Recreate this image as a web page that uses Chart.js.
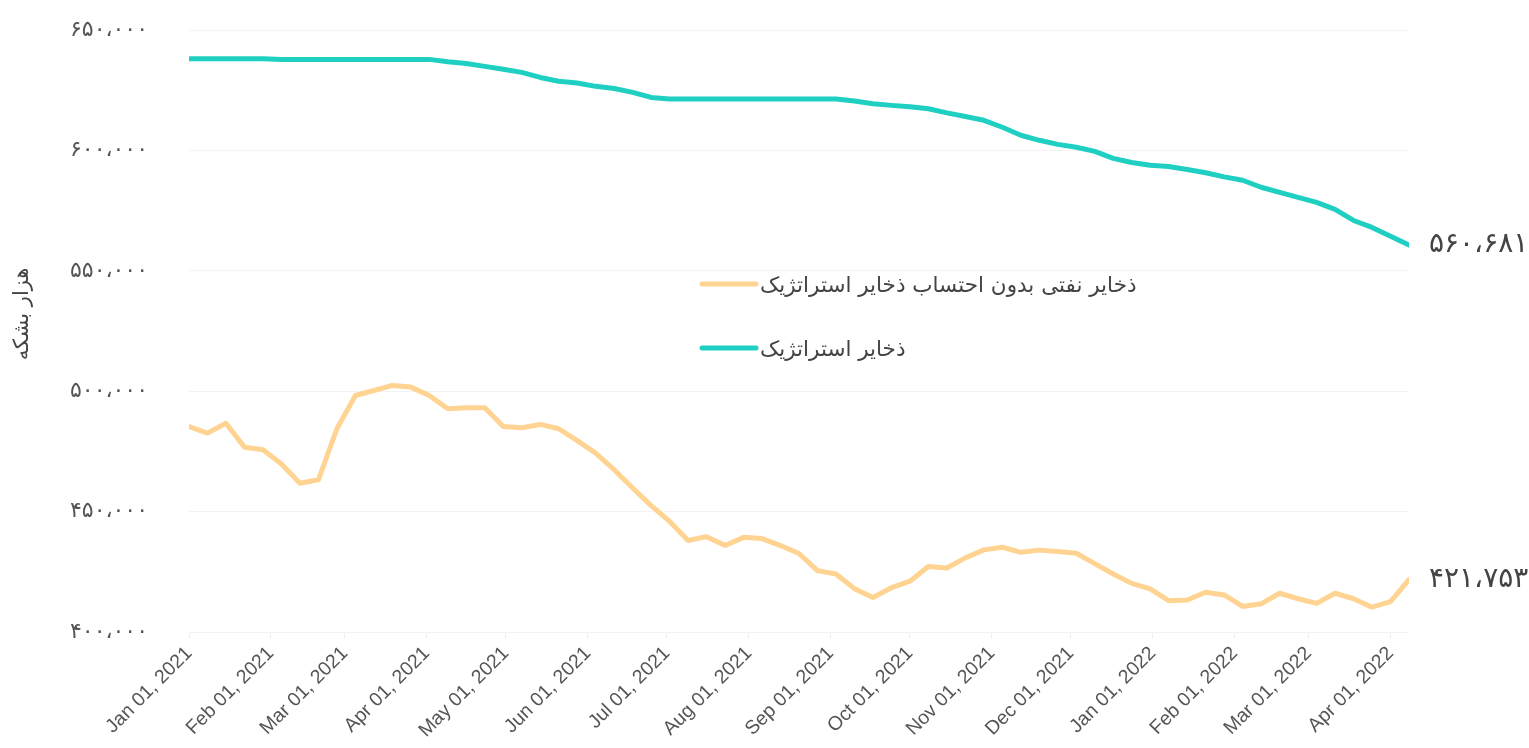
<!DOCTYPE html>
<html>
<head>
<meta charset="utf-8">
<script src="https://cdn.jsdelivr.net/npm/chart.js@4.4.1/dist/chart.umd.min.js"></script>
<style>
  body { margin: 0; background: #fff; }
  canvas { display: block; }
</style>
</head>
<body>
<canvas id="chart" width="1529" height="748"></canvas>
<script>
// weekly readings, first one on Fri Jan 01 2021
const startDate = Date.UTC(2021, 0, 1);
const dayMs = 86400000;

// ذخایر نفتی بدون احتساب ذخایر استراتژیک (thousand barrels)
const commercial = [
  485300, 482600, 486700, 476700, 475700, 469800, 461800, 463200, 484400, 498200,
  500300, 502400, 501700, 498200, 492700, 493100, 493100, 485300, 484800, 486200,
  484400, 479500, 474300, 467400, 459800, 452500, 445900, 438000, 439600, 435900,
  439300, 438800, 435900, 432600, 425500, 424100, 418000, 414300, 418400, 421100,
  427200, 426600, 430800, 434100, 435200, 433100, 434000, 433400, 432700, 428400,
  424100, 420200, 417900, 413000, 413300, 416500, 415400, 410600, 411700, 416100,
  413800, 411900, 416100, 413800, 410300, 412600, 421753
];

// ذخایر استراتژیک (thousand barrels)
const strategic = [
  638086, 638086, 638086, 638086, 638086, 637800, 637800, 637800, 637800, 637800,
  637800, 637800, 637800, 637800, 636800, 636100, 634900, 633700, 632400, 630300,
  628700, 628000, 626600, 625700, 624100, 622000, 621300, 621300, 621300, 621300,
  621300, 621300, 621300, 621300, 621300, 621300, 620500, 619400, 618700, 618100,
  617300, 615600, 614100, 612500, 609600, 606300, 604200, 602500, 601300, 599600,
  596700, 595000, 593800, 593300, 592100, 590700, 589000, 587600, 584700, 582600,
  580500, 578400, 575500, 570900, 568000, 564300, 560681
];

const seriesNames = ['ذخایر نفتی بدون احتساب ذخایر استراتژیک', 'ذخایر استراتژیک'];
const seriesColors = ['#ffd392', '#1fcfc2'];
const yTicks = [400000, 450000, 500000, 550000, 600000, 650000];
const yTitle = 'هزار بشکه';
const monthNames = ['Jan', 'Feb', 'Mar', 'Apr', 'May', 'Jun', 'Jul', 'Aug', 'Sep', 'Oct', 'Nov', 'Dec'];

const faFont = '"DejaVu Sans", sans-serif';

function faNum(n) {
  return Math.round(n).toLocaleString('en-US')
    .replace(/\d/g, d => '۰۱۲۳۴۵۶۷۸۹'[d])
    .replace(/,/g, '،');
}

function toPoints(values) {
  return values.map((v, i) => ({ x: i * 7, y: v }));
}

// first day of each month inside the range, as day offsets
const lastDay = (strategic.length - 1) * 7;
const monthTicks = [];
for (let m = 0; ; m++) {
  const d = (Date.UTC(2021, m, 1) - startDate) / dayMs;
  if (d > lastDay) break;
  monthTicks.push(d);
}

function dateLabel(day) {
  const dt = new Date(startDate + day * dayMs);
  return monthNames[dt.getUTCMonth()] + ' 01, ' + dt.getUTCFullYear();
}

const overlay = {
  id: 'overlay',
  afterDatasetsDraw(chart) {
    const ctx = chart.ctx;
    ctx.save();
    // value at the end of each line
    chart.data.datasets.forEach((ds, i) => {
      const meta = chart.getDatasetMeta(i);
      const last = meta.data[meta.data.length - 1];
      ctx.font = '28px ' + faFont;
      ctx.fillStyle = '#444';
      ctx.textAlign = 'left';
      ctx.textBaseline = 'middle';
      ctx.fillText(faNum(ds.data[ds.data.length - 1].y), last.x + 20, last.y);
    });
    // legend in the middle of the plot
    const lx = 702, ly = 284, rowGap = 64;
    chart.data.datasets.forEach((ds, i) => {
      const y = ly + i * rowGap;
      ctx.strokeStyle = ds.borderColor;
      ctx.lineWidth = 5;
      ctx.lineCap = 'round';
      ctx.beginPath();
      ctx.moveTo(lx, y);
      ctx.lineTo(lx + 54, y);
      ctx.stroke();
      ctx.font = '21.5px ' + faFont;
      ctx.fillStyle = '#444';
      ctx.textAlign = 'left';
      ctx.textBaseline = 'middle';
      ctx.fillText(ds.label, lx + 58, y + 2);
    });
    // y axis title
    ctx.translate(23, 314);
    ctx.rotate(-Math.PI / 2);
    ctx.font = '21px ' + faFont;
    ctx.fillStyle = '#444';
    ctx.textAlign = 'center';
    ctx.textBaseline = 'middle';
    ctx.fillText(yTitle, 0, 0);
    ctx.restore();
  }
};

new Chart(document.getElementById('chart'), {
  type: 'line',
  data: {
    datasets: [
      {
        label: seriesNames[0],
        data: toPoints(commercial),
        borderColor: seriesColors[0],
        backgroundColor: seriesColors[0],
        borderWidth: 5,
        pointRadius: 0,
        borderCapStyle: 'round',
        borderJoinStyle: 'round',
        tension: 0
      },
      {
        label: seriesNames[1],
        data: toPoints(strategic),
        borderColor: seriesColors[1],
        backgroundColor: seriesColors[1],
        borderWidth: 5,
        pointRadius: 0,
        borderCapStyle: 'round',
        borderJoinStyle: 'round',
        tension: 0
      }
    ]
  },
  options: {
    responsive: false,
    animation: false,
    layout: { padding: { top: 30, right: 120, left: 0, bottom: 0 } },
    plugins: {
      legend: { display: false },
      tooltip: { enabled: false }
    },
    scales: {
      x: {
        type: 'linear',
        min: 0,
        max: lastDay,
        afterBuildTicks: scale => { scale.ticks = monthTicks.map(v => ({ value: v })); },
        afterFit: scale => { scale.height = 116; },
        ticks: {
          callback: v => dateLabel(v),
          autoSkip: false,
          minRotation: 45,
          maxRotation: 45,
          padding: 4,
          color: '#555',
          font: { family: 'Arial, "Liberation Sans", sans-serif', size: 19.5 }
        },
        grid: { drawOnChartArea: false, drawTicks: true, tickLength: 6, color: '#eeeeee' },
        border: { display: false }
      },
      y: {
        min: yTicks[0],
        max: yTicks[yTicks.length - 1],
        afterBuildTicks: scale => { scale.ticks = yTicks.map(v => ({ value: v })); },
        afterFit: scale => {
          scale.width = 189;
          // tick padding is horizontal here; don't let it push the plot down
          scale.paddingTop = 14;
          scale.paddingBottom = 0;
        },
        ticks: {
          callback: v => faNum(v),
          padding: 41,
          color: '#555',
          font: { family: faFont, size: 22 }
        },
        grid: { drawTicks: false, color: '#f3f3f3' },
        border: { display: false }
      }
    }
  },
  plugins: [overlay]
});
</script>
</body>
</html>
